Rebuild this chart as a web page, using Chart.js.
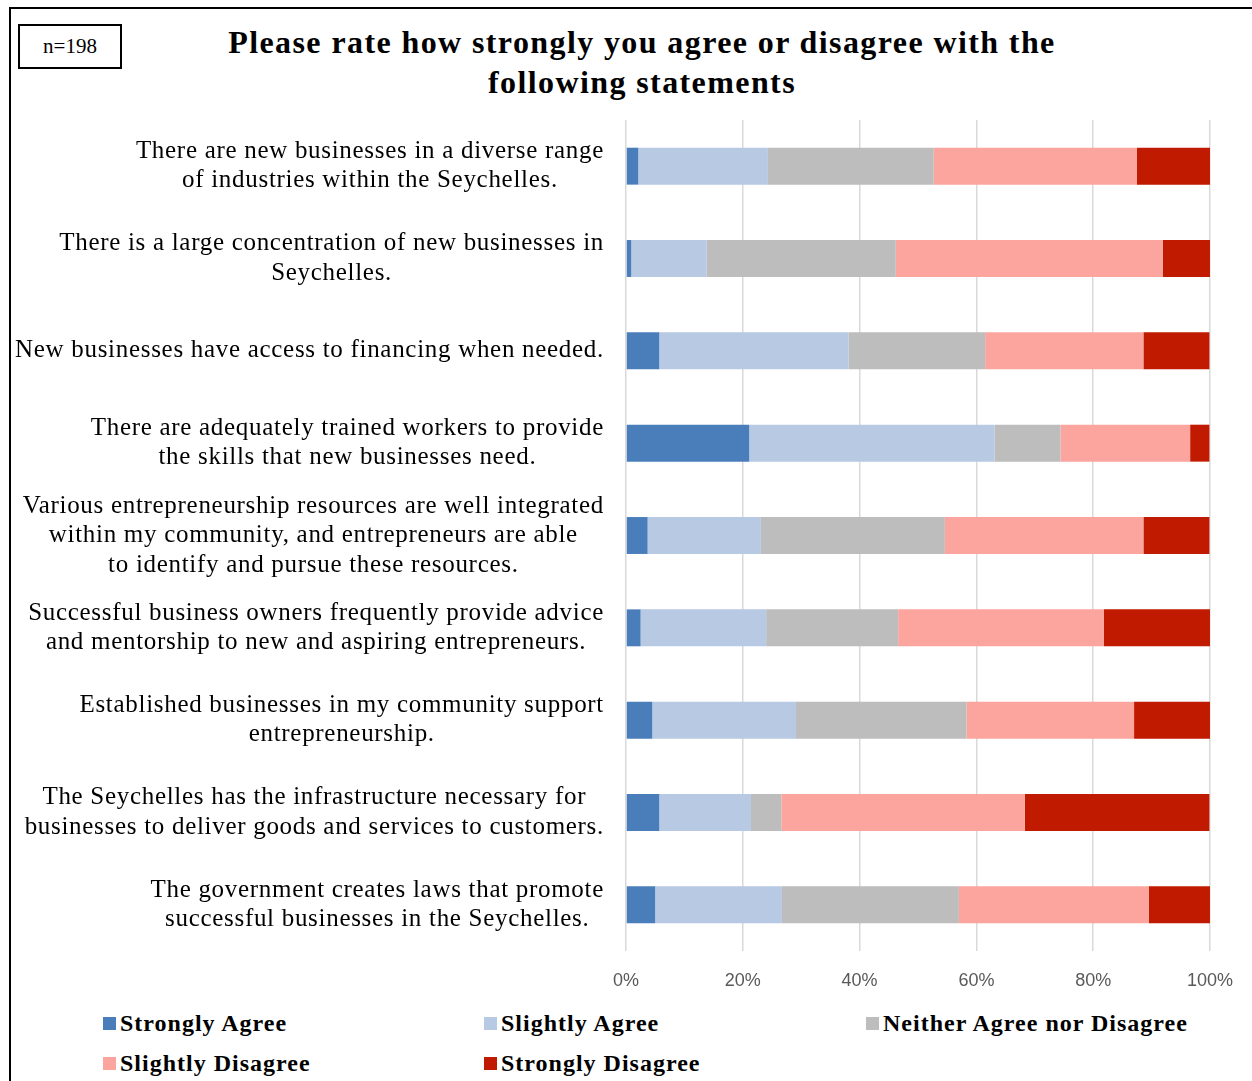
<!DOCTYPE html>
<html lang="en">
<head>
  <meta charset="UTF-8" />
  <title>Agree / disagree statements</title>
  <script src="https://cdn.jsdelivr.net/npm/chart.js"></script>
  <style>
    body { margin: 0; background: #fff; }
    #wrap { position: relative; width: 1252px; height: 1081px; overflow: hidden; }
    #frame { position: absolute; left: 9px; top: 7px; right: -10px; bottom: -10px;
             border-left: 2px solid #000; border-top: 2px solid #000; }
    #nbox { position: absolute; left: 18px; top: 24px; width: 100px; height: 41px;
            border: 2px solid #000; font: 21px "Liberation Serif", serif;
            display: flex; align-items: center; justify-content: center; }
    #title { position: absolute; left: 172px; width: 940px; top: 22px; text-align: center;
             font: bold 32px/40px "Liberation Serif", serif; letter-spacing: 1.4px; color: #000; }
    #chartBox { position: absolute; left: 0; top: 0; width: 1252px; height: 1000px; }
    #legend { position: absolute; left: 103px; top: 1008px; width: 1140px;
              display: grid; grid-template-columns: 381px 382px 380px; row-gap: 10px; }
    .item { display: flex; align-items: center; height: 30px; letter-spacing: 1px;
            font: bold 24px "Liberation Serif", serif; color: #000; }
    .sw { width: 13px; height: 13px; margin-right: 4px; }
  </style>
</head>
<body>
  <div id="wrap">
    <div id="frame"></div>
    <div id="nbox">n=198</div>
    <div id="title">Please rate how strongly you agree or disagree with the<br>following statements</div>
    <div id="chartBox"><canvas id="chart"></canvas></div>
    <div id="legend"></div>
  </div>

  <script>
    const statements = [
      ['There are new businesses in a diverse range', 'of industries within the Seychelles.'],
      ['There is a large concentration of new businesses in', 'Seychelles.'],
      ['New businesses have access to financing when needed.'],
      ['There are adequately trained workers to provide', 'the skills that new businesses need.'],
      ['Various entrepreneurship resources are well integrated', 'within my community, and entrepreneurs are able', 'to identify and pursue these resources.'],
      ['Successful business owners frequently provide advice', 'and mentorship to new and aspiring entrepreneurs.'],
      ['Established businesses in my community support', 'entrepreneurship.'],
      ['The Seychelles has the infrastructure necessary for', 'businesses to deliver goods and services to customers.'],
      ['The government creates laws that promote', 'successful businesses in the Seychelles.']
    ];

    // percentages per statement
    const stronglyAgree     = [2.1, 0.9, 5.7, 21.1, 3.7, 2.5, 4.5, 5.7, 5.0];
    const slightlyAgree     = [22.2, 12.9, 32.4, 42.0, 19.4, 21.5, 24.6, 15.7, 21.7];
    const neither           = [28.4, 32.4, 23.4, 11.3, 31.5, 22.6, 29.2, 5.2, 30.3];
    const slightlyDisagree  = [34.8, 45.7, 27.1, 22.2, 34.0, 35.2, 28.7, 41.7, 32.5];
    const stronglyDisagree  = [12.6, 8.1, 11.3, 3.3, 11.3, 18.2, 13.0, 31.6, 10.5];

    const seriesNames = ['Strongly Agree', 'Slightly Agree', 'Neither Agree nor Disagree', 'Slightly Disagree', 'Strongly Disagree'];
    const seriesData = [stronglyAgree, slightlyAgree, neither, slightlyDisagree, stronglyDisagree];
    const colors = ['#4a7ebb', '#b7c9e3', '#bdbdbd', '#fca59e', '#c01a00'];
    const xTicks = [0, 20, 40, 60, 80, 100];

    // y labels: block right-aligned next to the axis, lines centred inside the block
    const statementLabels = {
      id: 'statementLabels',
      afterDraw(chart) {
        const ctx = chart.ctx;
        const y = chart.scales.y;
        const right = chart.chartArea.left - 22;
        const lh = 29.5;
        ctx.save();
        ctx.font = '25px "Liberation Serif", serif';
        ctx.letterSpacing = '0.7px';
        ctx.fillStyle = '#000';
        ctx.textAlign = 'center';
        ctx.textBaseline = 'middle';
        chart.data.labels.forEach((lines, i) => {
          const w = Math.max(...lines.map(l => ctx.measureText(l).width));
          const cx = right - w / 2;
          const cy = y.getPixelForTick(i);
          lines.forEach((l, k) => {
            ctx.fillText(l, cx, cy + (k - (lines.length - 1) / 2) * lh);
          });
        });
        ctx.restore();
      }
    };

    new Chart(document.getElementById('chart'), {
      type: 'bar',
      data: {
        labels: statements,
        datasets: seriesNames.map((name, i) => ({
          label: name,
          data: seriesData[i],
          backgroundColor: colors[i],
          borderWidth: 0,
          barPercentage: 0.4,
          categoryPercentage: 1
        }))
      },
      options: {
        indexAxis: 'y',
        responsive: true,
        maintainAspectRatio: false,
        animation: false,
        layout: { padding: { top: 120, right: 40, left: 0, bottom: 0 } },
        plugins: { legend: { display: false }, tooltip: { enabled: false } },
        scales: {
          x: {
            stacked: true,
            min: 0,
            max: 100,
            afterBuildTicks: s => { s.ticks = xTicks.map(v => ({ value: v })); },
            grid: { color: '#d9d9d9', lineWidth: 1.5, drawTicks: false },
            border: { display: false },
            ticks: {
              padding: 19,
              color: '#595959',
              font: { family: '"Liberation Sans", sans-serif', size: 18 },
              callback: v => v + '%'
            },
            afterFit: s => { s.height = 49; }
          },
          y: {
            stacked: true,
            grid: { display: false },
            border: { display: false },
            ticks: { display: false },
            afterFit: s => { s.width = 626; }
          }
        }
      },
      plugins: [statementLabels]
    });

    const legend = document.getElementById('legend');
    seriesNames.forEach((name, i) => {
      const d = document.createElement('div');
      d.className = 'item';
      d.innerHTML = '<span class="sw" style="background:' + colors[i] + '"></span>' + name;
      legend.appendChild(d);
    });
  </script>
</body>
</html>
